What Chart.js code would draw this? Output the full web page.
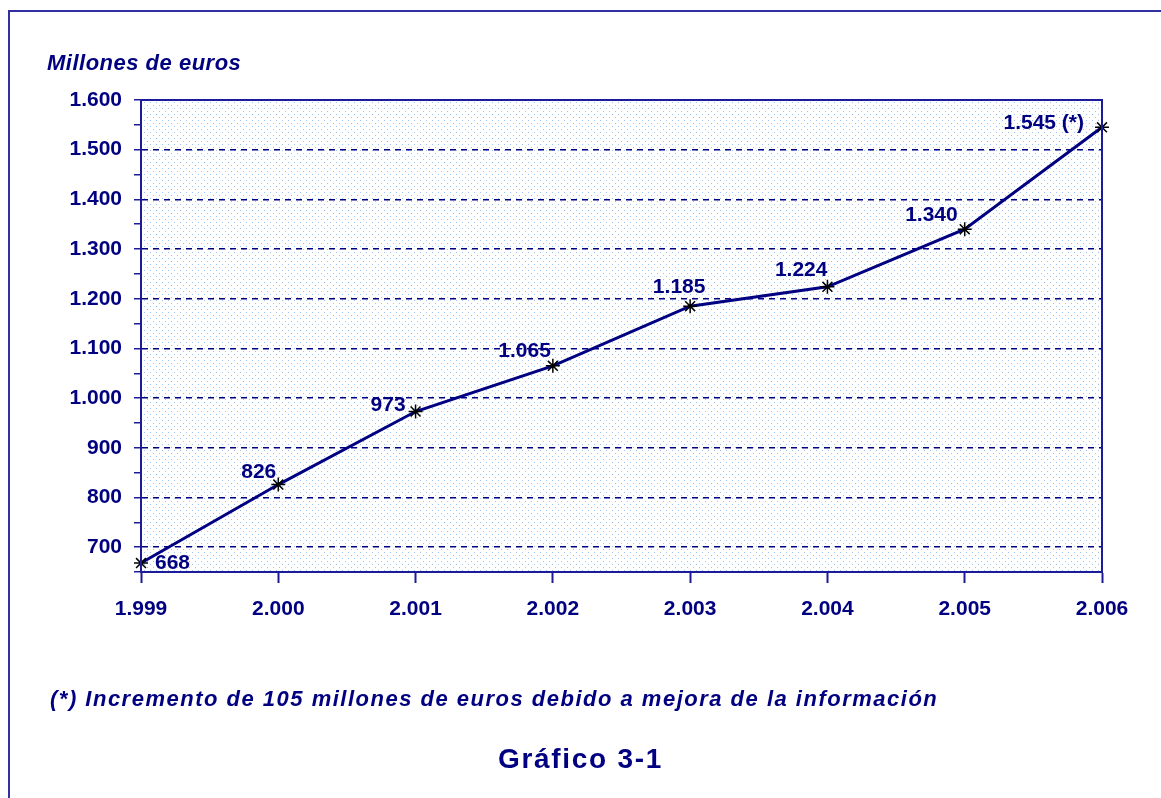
<!DOCTYPE html>
<html>
<head>
<meta charset="utf-8">
<script src="https://cdn.jsdelivr.net/npm/chart.js@4"></script>
<style>
    html, body { margin: 0; padding: 0; background: #fff; overflow: hidden; }
    body { width: 1161px; height: 798px; position: relative; font-family: 'Liberation Sans', Arial, sans-serif; color: #000080; }
    #frame { position: absolute; left: 8px; top: 10px; width: 1200px; height: 850px; border: 2px solid #3030a0; }
    #wrap { position: absolute; left: 0; top: 0; width: 1161px; height: 798px; }
    .txt { position: absolute; font-weight: bold; line-height: 1; white-space: nowrap; }
    #unit { left: 47px; top: 52px; font-size: 22px; font-style: italic; letter-spacing: 0.5px; }
    #note { left: 50px; top: 688px; font-size: 22px; font-style: italic; letter-spacing: 1.5px; }
    #fig { left: 498px; top: 745px; font-size: 28px; letter-spacing: 1.7px; }
</style>
</head>
<body>
<div id="frame"></div>
<div id="wrap"><canvas id="chart" width="1161" height="798"></canvas></div>
<div class="txt" id="unit">Millones de euros</div>
<div class="txt" id="note">(*) Incremento de 105 millones de euros debido a mejora de la información</div>
<div class="txt" id="fig">Gráfico 3-1</div>
<script>
const years = [1999, 2000, 2001, 2002, 2003, 2004, 2005, 2006]
const amounts = [668, 826, 973, 1065, 1185, 1224, 1340, 1545]
const labelSuffix = ['', '', '', '', '', '', '', ' (*)']
const yMin = 650
const yMax = 1600

// where each value label sits around its point: dx, dy, align
const labelPos = [
    [14, 0, 'left'],
    [-2, -12, 'right'],
    [-10, -6, 'right'],
    [-2, -15, 'right'],
    [-11, -19, 'center'],
    [0, -17, 'right'],
    [-7, -14, 'right'],
    [-18, -4, 'right']
]

const navy = '#000080'

function miles(v) {
    return String(v).replace(/\B(?=(\d{3})+(?!\d))/g, '.')
}

// dotted light blue fill of the plot area
function dotPattern() {
    const c = document.createElement('canvas')
    c.width = 6
    c.height = 6
    const g = c.getContext('2d')
    g.fillStyle = '#ffffff'
    g.fillRect(0, 0, 6, 6)
    g.fillStyle = '#9cc4f0'
    g.fillRect(0, 0, 1, 1)
    g.fillRect(3, 3, 1, 1)
    return g.createPattern(c, 'repeat')
}

const plotFrame = {
    id: 'plotFrame',
    beforeDraw(chart) {
        const a = chart.chartArea
        const ctx = chart.ctx
        ctx.save()
        ctx.fillStyle = dotPattern()
        ctx.fillRect(a.left, a.top, a.right - a.left, a.bottom - a.top)
        ctx.restore()
    },
    afterDatasetsDraw(chart) {
        const a = chart.chartArea
        const ctx = chart.ctx
        ctx.save()
        ctx.strokeStyle = '#1c1c9a'
        ctx.lineWidth = 2
        ctx.strokeRect(a.left, a.top, a.right - a.left, a.bottom - a.top)

        ctx.fillStyle = navy
        ctx.font = 'bold 21px "Liberation Sans", Arial, sans-serif'
        ctx.textBaseline = 'middle'
        const pts = chart.getDatasetMeta(0).data
        pts.forEach((p, i) => {
            const pos = labelPos[i]
            ctx.textAlign = pos[2]
            ctx.fillText(miles(amounts[i]) + labelSuffix[i], p.x + pos[0], p.y + pos[1])
        })
        ctx.restore()
    }
}

Chart.defaults.font.family = '"Liberation Sans", Arial, sans-serif'
Chart.defaults.font.weight = 'bold'
Chart.defaults.font.size = 21
Chart.defaults.color = navy

new Chart(document.getElementById('chart'), {
    type: 'line',
    data: {
        labels: years,
        datasets: [{
            data: amounts,
            borderColor: navy,
            borderWidth: 3,
            tension: 0,
            pointStyle: 'star',
            pointRadius: 7,
            pointBorderColor: '#000',
            pointBorderWidth: 1.5,
            pointBackgroundColor: '#000',
            clip: false
        }]
    },
    options: {
        responsive: false,
        animation: false,
        events: [],
        layout: { padding: { left: 0, top: 100, right: 59, bottom: 0 } },
        plugins: {
            legend: { display: false },
            tooltip: { enabled: false }
        },
        scales: {
            x: {
                type: 'category',
                offset: false,
                afterFit(scale) { scale.height = 226 },
                grid: {
                    offset: false,
                    drawOnChartArea: false,
                    tickLength: 11,
                    tickColor: '#1c1c9a',
                    tickWidth: 2
                },
                border: { color: '#1c1c9a', width: 2 },
                ticks: {
                    padding: 14,
                    maxRotation: 0,
                    callback(v) { return miles(years[v]) }
                }
            },
            y: {
                min: yMin,
                max: yMax,
                afterFit(scale) { scale.width = 141 },
                grid: {
                    color: ctx => (ctx.tick && ctx.tick.value % 100 === 0) ? navy : 'rgba(0,0,0,0)',
                    lineWidth: 1.5,
                    tickLength: 7,
                    tickColor: '#1c1c9a',
                    tickWidth: 1.5
                },
                border: { color: '#1c1c9a', width: 2, dash: [6, 5] },
                ticks: {
                    stepSize: 50,
                    padding: 12,
                    autoSkip: false,
                    callback(v) { return v % 100 === 0 ? miles(v) : '' }
                }
            }
        }
    },
    plugins: [plotFrame]
})
</script>
</body>
</html>
